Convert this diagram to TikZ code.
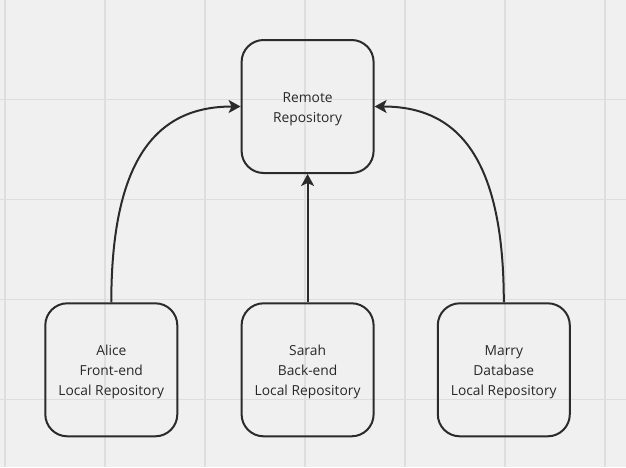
\documentclass[tikz,border=0pt]{standalone}
\usepackage{fontspec}
\setmainfont{Open Sans}
\usetikzlibrary{arrows.meta}
\definecolor{bgc}{RGB}{240,240,240}
\definecolor{gridc}{RGB}{222,222,222}
\definecolor{inkc}{RGB}{43,43,43}
\definecolor{txtc}{RGB}{40,40,40}
\newcommand{\tstrut}{\rule{0pt}{15.5pt}}
\tikzset{
  repobox/.style={draw=inkc, line width=2pt, rounded corners=22pt,
    minimum width=132pt, minimum height=133pt, inner sep=0pt,
    align=center, text=txtc, font=\fontsize{13.8}{20}\selectfont},
  arr/.style={draw=inkc, line width=2pt,
    -{Stealth[length=12pt, width=13pt, inset=3pt]}},
  gridline/.style={draw=gridc, line width=1.3pt}
}
\begin{document}
\begin{tikzpicture}[x=1pt, y=-1pt]
\useasboundingbox (0,0) rectangle (626,467);
\fill[bgc] (0,0) rectangle (626,467);
\foreach \gx in {5,105,205,305,405,505,605} {
  \draw[gridline] (\gx,0) -- (\gx,467);
}
\foreach \gy in {99.5,199.5,299.5,399.5} {
  \draw[gridline] (0,\gy) -- (626,\gy);
}
\node[repobox] (remote) at (307.6,106.5) {\tstrut Remote\\Repository};
\node[repobox] (alice) at (111.3,369.8) {\tstrut Alice\\Front-end\\Local Repository};
\node[repobox] (sarah) at (307.6,369.8) {\tstrut Sarah\\Back-end\\Local Repository};
\node[repobox] (marry) at (503.8,369.8) {\tstrut Marry\\Database\\Local Repository};
\draw[arr] (alice.north) .. controls +(0,-152) and +(-78,0) .. (remote.west);
\draw[arr] (marry.north) .. controls +(0,-152) and +(78,0) .. (remote.east);
\draw[arr] (sarah.north) -- (remote.south);
\end{tikzpicture}
\end{document}
